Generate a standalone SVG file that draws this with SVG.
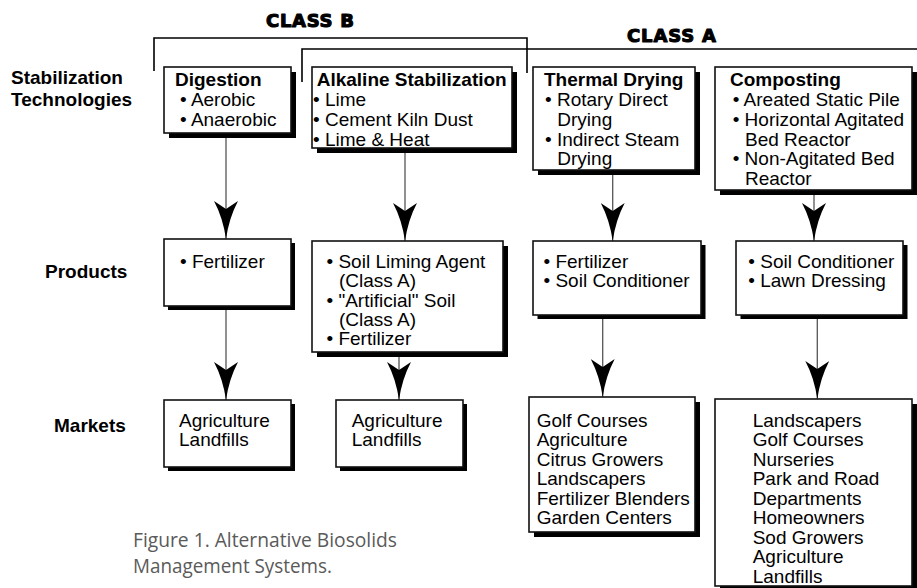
<svg xmlns="http://www.w3.org/2000/svg" width="917" height="588" viewBox="0 0 917 588">
<style>
  .t { font-family: "Liberation Sans", Arial, sans-serif; font-size: 19px; fill: #000; }
  .b { font-weight: bold; }
  .cls { font-family: "DejaVu Sans", "Liberation Sans", sans-serif; font-weight: bold; font-size: 18px; fill: #000; stroke: #000; stroke-width: 1.1; stroke-linejoin: round; }
  .box { fill: #fff; stroke: #111; stroke-width: 1.6; }
  .sh { fill: #000; }
  .br { fill: none; stroke: #000; stroke-width: 1.6; }
  .ln { fill: none; stroke: #555; stroke-width: 1.3; }
  .cap { font-family: "Open Sans", "Liberation Sans", sans-serif; font-weight: 400; font-size: 20px; fill: #5a5a5a; }
</style>
<defs>
  <marker id="ah" viewBox="0 0 38 24" refX="38" refY="12" markerWidth="38" markerHeight="24" markerUnits="userSpaceOnUse" orient="auto">
    <path d="M38,12 Q17,9 0,0 L8,12 L0,24 Q17,15 38,12 Z" fill="#000"/>
  </marker>
</defs>
<rect width="917" height="588" fill="#fff"/>

<g id="brackets">
  <path class="br" d="M154,71 V38 H527 V73"/>
  <path class="br" d="M302,82 V49 H917"/>
  <text class="cls" x="310" y="27" text-anchor="middle" textLength="88">CLASS B</text>
  <text class="cls" x="671.5" y="41.7" text-anchor="middle" textLength="89">CLASS A</text>
</g>

<g id="row-labels">
  <text class="t b" x="11" y="84">Stabilization</text>
  <text class="t b" x="11" y="106">Technologies</text>
  <text class="t b" x="45" y="278">Products</text>
  <text class="t b" x="54" y="432">Markets</text>
</g>

<g id="connectors">
  <line class="ln" x1="226" y1="133" x2="226" y2="239" marker-end="url(#ah)"/>
  <line class="ln" x1="405" y1="148" x2="405" y2="241" marker-end="url(#ah)"/>
  <line class="ln" x1="612.7" y1="170" x2="612.7" y2="241" marker-end="url(#ah)"/>
  <line class="ln" x1="814" y1="190" x2="814" y2="241" marker-end="url(#ah)"/>
  <line class="ln" x1="226" y1="306" x2="226" y2="400" marker-end="url(#ah)"/>
  <line class="ln" x1="399" y1="352" x2="399" y2="400" marker-end="url(#ah)"/>
  <line class="ln" x1="602.7" y1="315" x2="602.7" y2="397" marker-end="url(#ah)"/>
  <line class="ln" x1="817.3" y1="315" x2="817.3" y2="399" marker-end="url(#ah)"/>
</g>

<g id="digestion">
  <rect class="sh" x="169" y="72" width="127" height="66"/>
  <rect class="box" x="164" y="67" width="127" height="66"/>
  <text class="t b" x="175" y="86">Digestion</text>
  <text class="t" x="180" y="106">• Aerobic</text>
  <text class="t" x="180" y="126">• Anaerobic</text>
</g>

<g id="alkaline">
  <rect class="sh" x="317" y="72" width="200" height="81"/>
  <rect class="box" x="312" y="67" width="200" height="81"/>
  <text class="t b" x="316.7" y="86">Alkaline Stabilization</text>
  <text class="t" x="313" y="106">• Lime</text>
  <text class="t" x="313" y="126">• Cement Kiln Dust</text>
  <text class="t" x="313" y="145.5">• Lime &amp; Heat</text>
</g>

<g id="thermal">
  <rect class="sh" x="538" y="72" width="162" height="103"/>
  <rect class="box" x="533" y="67" width="162" height="103"/>
  <text class="t b" x="544" y="86">Thermal Drying</text>
  <text class="t" x="545" y="106">• Rotary Direct</text>
  <text class="t" x="557.3" y="126">Drying</text>
  <text class="t" x="545" y="145.5">• Indirect Steam</text>
  <text class="t" x="557.3" y="165">Drying</text>
</g>

<g id="composting">
  <rect class="sh" x="720" y="72" width="197" height="123"/>
  <rect class="box" x="715" y="67" width="197" height="123"/>
  <text class="t b" x="730" y="86">Composting</text>
  <text class="t" x="732.7" y="106">• Areated Static Pile</text>
  <text class="t" x="732.7" y="126">• Horizontal Agitated</text>
  <text class="t" x="745" y="145.5">Bed Reactor</text>
  <text class="t" x="732.7" y="165">• Non-Agitated Bed</text>
  <text class="t" x="745" y="184.5">Reactor</text>
</g>

<g id="prod-digestion">
  <rect class="sh" x="168" y="243" width="127" height="67"/>
  <rect class="box" x="164" y="239" width="127" height="67"/>
  <text class="t" x="180" y="267.7">• Fertilizer</text>
</g>

<g id="prod-alkaline">
  <rect class="sh" x="317" y="246" width="191" height="111"/>
  <rect class="box" x="312" y="241" width="191" height="111"/>
  <text class="t" x="326.5" y="267.7">• Soil Liming Agent</text>
  <text class="t" x="339" y="287.3">(Class A)</text>
  <text class="t" x="326.5" y="306.5">• "Artificial" Soil</text>
  <text class="t" x="339" y="326">(Class A)</text>
  <text class="t" x="326.5" y="345">• Fertilizer</text>
</g>

<g id="prod-thermal">
  <rect class="sh" x="537.5" y="245" width="168" height="74"/>
  <rect class="box" x="533" y="241" width="168" height="74"/>
  <text class="t" x="543.5" y="267.7">• Fertilizer</text>
  <text class="t" x="543.5" y="287">• Soil Conditioner</text>
</g>

<g id="prod-composting">
  <rect class="sh" x="740.5" y="245" width="167" height="74"/>
  <rect class="box" x="736" y="241" width="167" height="74"/>
  <text class="t" x="748.3" y="267.7">• Soil Conditioner</text>
  <text class="t" x="748.3" y="287">• Lawn Dressing</text>
</g>

<g id="mkt-digestion">
  <rect class="sh" x="168" y="404" width="127" height="67"/>
  <rect class="box" x="164" y="400" width="127" height="67"/>
  <text class="t" x="179" y="426.7">Agriculture</text>
  <text class="t" x="179" y="446">Landfills</text>
</g>

<g id="mkt-alkaline">
  <rect class="sh" x="340" y="404" width="127" height="67"/>
  <rect class="box" x="336" y="400" width="127" height="67"/>
  <text class="t" x="351.7" y="426.7">Agriculture</text>
  <text class="t" x="351.7" y="446">Landfills</text>
</g>

<g id="mkt-thermal">
  <rect class="sh" x="534" y="402" width="166" height="135"/>
  <rect class="box" x="529" y="397" width="166" height="135"/>
  <text class="t">
    <tspan x="536.7" y="426.7">Golf Courses</tspan>
    <tspan x="536.7" y="446.2">Agriculture</tspan>
    <tspan x="536.7" y="465.7">Citrus Growers</tspan>
    <tspan x="536.7" y="485.2">Landscapers</tspan>
    <tspan x="536.7" y="504.7">Fertilizer Blenders</tspan>
    <tspan x="536.7" y="524.2">Garden Centers</tspan>
  </text>
</g>

<g id="mkt-composting">
  <rect class="sh" x="720" y="404" width="197" height="190"/>
  <rect class="box" x="715" y="399" width="197" height="187"/>
  <text class="t">
    <tspan x="752.7" y="426.7">Landscapers</tspan>
    <tspan x="752.7" y="446.2">Golf Courses</tspan>
    <tspan x="752.7" y="465.7">Nurseries</tspan>
    <tspan x="752.7" y="485.2">Park and Road</tspan>
    <tspan x="752.7" y="504.7">Departments</tspan>
    <tspan x="752.7" y="524.2">Homeowners</tspan>
    <tspan x="752.7" y="543.7">Sod Growers</tspan>
    <tspan x="752.7" y="563.2">Agriculture</tspan>
    <tspan x="752.7" y="582.7">Landfills</tspan>
  </text>
</g>

<g id="caption">
  <text class="cap" x="133" y="547" textLength="264" lengthAdjust="spacingAndGlyphs">Figure 1. Alternative Biosolids</text>
  <text class="cap" x="133" y="573" textLength="199" lengthAdjust="spacingAndGlyphs">Management Systems.</text>
</g>
</svg>
